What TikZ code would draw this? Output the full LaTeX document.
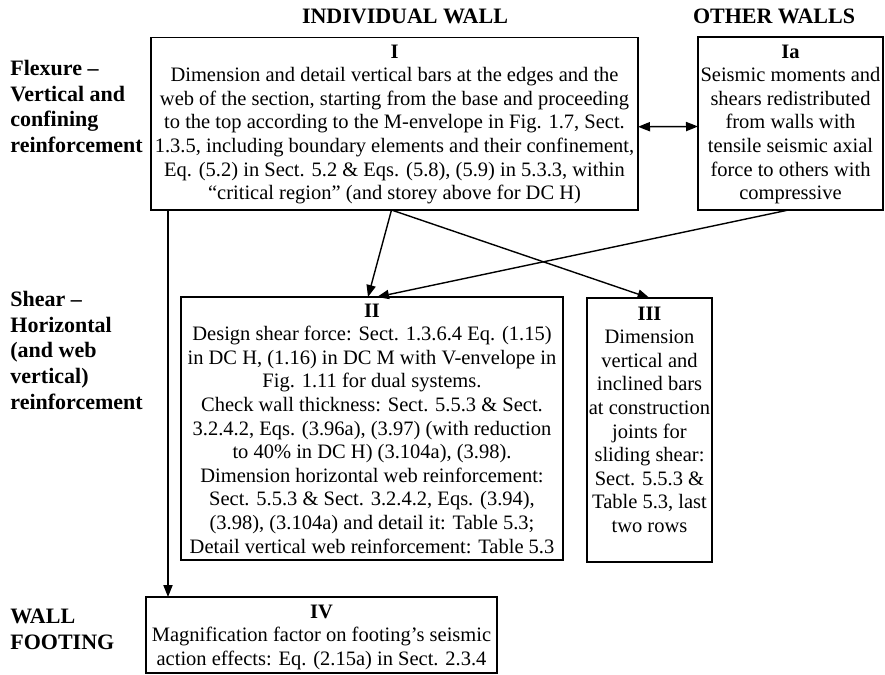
\documentclass[tikz,border=0pt]{standalone}
\usepackage{fontspec}
\setmainfont{Liberation Serif}
\usetikzlibrary{arrows.meta,calc}
\begin{document}
\begin{tikzpicture}[x=0.5pt,y=-0.5pt,
  box/.style={draw,line width=0.7pt,inner sep=0pt,outer sep=0pt},
  boxtext/.style={align=center,inner sep=0pt,anchor=base,font=\fontsize{10.25}{11.8}\selectfont},
  rowlabel/.style={align=left,inner sep=0pt,anchor=base west,font=\fontsize{11}{12.85}\selectfont\bfseries},
  heading/.style={inner sep=0pt,anchor=base,font=\fontsize{11}{12.85}\selectfont\bfseries},
  tip/.style={Triangle[length=6pt,width=4.6pt]},
  link/.style={line width=0.7pt,-{Triangle[length=6pt,width=4.6pt]}},
  bilink/.style={line width=0.7pt,{Triangle[length=6pt,width=4.6pt]}-{Triangle[length=6pt,width=4.6pt]}},
]
\useasboundingbox (0,0) rectangle (885,675);

% column headings
\node[heading] (hInd) at (405,23.5) {INDIVIDUAL WALL};
\node[heading] (hOth) at (774,23.5) {OTHER WALLS};

% row labels (positioned by the baseline of their last line)
\node[rowlabel] (rFlex) at (10,152.6) {Flexure –\\Vertical and\\confining\\reinforcement};
\node[rowlabel] (rShear) at (10,409.3) {Shear –\\Horizontal\\(and web\\vertical)\\reinforcement};
\node[rowlabel] (rFoot) at (10,649.2) {WALL\\FOOTING};

% boxes
\node[box,minimum width=243.5pt,minimum height=86.25pt] (bI) at (394.5,123.75) {};
\node[box,minimum width=92.5pt,minimum height=86.5pt] (bIa) at (790.5,123.5) {};
\node[box,minimum width=191pt,minimum height=131.5pt] (bII) at (372,428.5) {};
\node[box,minimum width=62.5pt,minimum height=132pt] (bIII) at (649.5,430) {};
\node[box,minimum width=175.5pt,minimum height=38pt] (bIV) at (321.5,635) {};

% box contents (positioned by the baseline of their last line)
\node[boxtext] (tI) at (394.5,199.6) {\textbf{I}\\
Dimension and detail vertical bars at the edges and the\\
web of the section, starting from the base and proceeding\\
to the top according to the M-envelope in Fig. 1.7, Sect.\\
1.3.5, including boundary elements and their confinement,\\
Eq. (5.2) in Sect. 5.2 \& Eqs. (5.8), (5.9) in 5.3.3, within\\
“critical region” (and storey above for DC H)};

\node[boxtext] (tIa) at (790.5,199.6) {\textbf{Ia}\\
Seismic moments and\\
shears redistributed\\
from walls with\\
tensile seismic axial\\
force to others with\\
compressive};

\node[boxtext] (tII) at (372,553) {\textbf{II}\\
Design shear force: Sect. 1.3.6.4 Eq. (1.15)\\
in DC H, (1.16) in DC M with V-envelope in\\
Fig. 1.11 for dual systems.\\
Check wall thickness: Sect. 5.5.3 \& Sect.\\
3.2.4.2, Eqs. (3.96a), (3.97) (with reduction\\
to 40\% in DC H) (3.104a), (3.98).\\
Dimension horizontal web reinforcement:\\
Sect. 5.5.3 \& Sect. 3.2.4.2, Eqs. (3.94),\\
(3.98), (3.104a) and detail it: Table 5.3;\\
Detail vertical web reinforcement: Table 5.3};

\node[boxtext] (tIII) at (649.5,532.4) {\textbf{III}\\
Dimension\\
vertical and\\
inclined bars\\
at construction\\
joints for\\
sliding shear:\\
Sect. 5.5.3 \&\\
Table 5.3, last\\
two rows};

\node[boxtext] (tIV) at (321.5,665.2) {\textbf{IV}\\
Magnification factor on footing’s seismic\\
action effects: Eq. (2.15a) in Sect. 2.3.4};

% connectors
\coordinate (down) at (168,0);
\draw[bilink] ($(bI.east)+(0,3)$) -- ($(bIa.west)+(0,3)$);
\draw[link] (bI.south -| down) -- (bIV.north -| down);
\draw[link] ($(bI.south)+(-3,0)$) -- ($(bII.north)+(-4,0)$);
\draw[link] ($(bI.south)+(-3,0)$) -- (bIII.north);
\draw[link] ($(bIa.south)+(-2,0)$) -- ($(bII.north)+(5,0)$);
\end{tikzpicture}
\end{document}
